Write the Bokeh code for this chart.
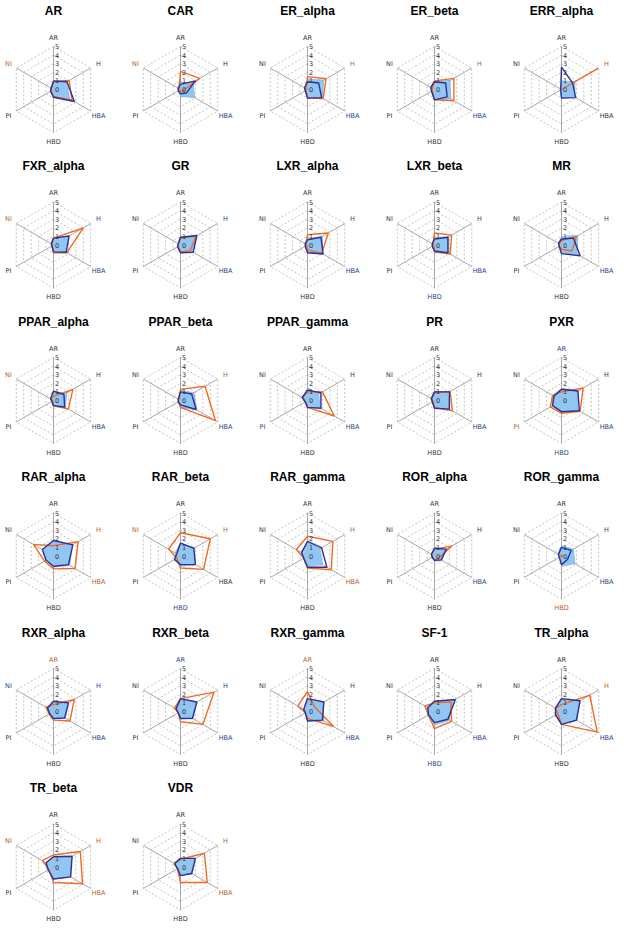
import numpy as np
from bokeh.plotting import figure
from bokeh.models import Range1d, ColumnDataSource
from bokeh.embed import file_html
from bokeh.resources import INLINE
from bokeh.core.properties import value

axes_names = ["AR", "H", "HBA", "HBD", "PI", "NI"]
ticks = [0, 1, 2, 3, 4, 5]

titles = ["AR", "CAR", "ER_alpha", "ER_beta", "ERR_alpha",
          "FXR_alpha", "GR", "LXR_alpha", "LXR_beta", "MR",
          "PPAR_alpha", "PPAR_beta", "PPAR_gamma", "PR", "PXR",
          "RAR_alpha", "RAR_beta", "RAR_gamma", "ROR_alpha", "ROR_gamma",
          "RXR_alpha", "RXR_beta", "RXR_gamma", "SF-1", "TR_alpha",
          "TR_beta", "VDR"]

# values in axis order AR, H, HBA, HBD, PI, NI
fill_vals = [
    [0.9, 1.7, 2.2, 0.9, 0.4, 0.4],
    [0.8, 1.7, 1.9, 0.8, 0.3, 0.3],
    [1.2, 2.2, 2.0, 1.0, 0.3, 0.4],
    [1.0, 2.1, 2.2, 1.2, 0.4, 0.5],
    [1.0, 1.8, 1.8, 1.0, 0.2, 0.2],
    [0.8, 2.0, 1.6, 0.8, 0.3, 0.3],
    [0.9, 2.0, 1.7, 0.9, 0.4, 0.3],
    [0.8, 2.0, 2.0, 0.9, 0.3, 0.3],
    [0.9, 1.9, 1.9, 0.9, 0.3, 0.3],
    [1.0, 2.2, 2.1, 1.0, 0.4, 0.4],
    [0.9, 1.8, 1.6, 0.7, 0.3, 0.3],
    [1.2, 1.8, 2.2, 0.8, 0.3, 0.3],
    [1.5, 1.5, 1.7, 0.8, 0.4, 0.6],
    [1.1, 1.8, 2.0, 0.9, 0.3, 0.4],
    [1.4, 2.3, 2.2, 1.4, 1.2, 1.2],
    [1.8, 2.5, 2.2, 1.3, 1.0, 1.5],
    [1.5, 1.8, 2.0, 1.2, 0.7, 0.7],
    [1.6, 1.7, 2.0, 1.2, 0.5, 0.8],
    [1.0, 1.5, 1.0, 0.6, 0.3, 0.4],
    [1.2, 1.6, 1.8, 1.2, 0.3, 0.5],
    [1.2, 2.0, 1.6, 0.9, 0.5, 0.8],
    [1.5, 2.1, 1.7, 0.9, 0.3, 0.6],
    [1.3, 2.0, 2.2, 1.1, 0.3, 0.5],
    [1.2, 2.5, 2.0, 1.6, 0.9, 1.0],
    [1.5, 2.4, 2.1, 1.5, 0.8, 0.8],
    [1.2, 2.4, 2.3, 1.4, 0.7, 1.0],
    [1.0, 2.0, 1.6, 1.0, 0.4, 0.8],
]

navy_vals = [
    [1.0, 1.8, 2.8, 0.9, 0.4, 0.3],
    [0.6, 2.0, 0.8, 0.5, 0.3, 0.3],
    [0.9, 1.5, 1.9, 1.0, 0.3, 0.4],
    [0.9, 1.5, 1.7, 1.2, 0.4, 0.5],
    [2.6, 1.5, 1.9, 1.0, 0.1, 0.1],
    [0.8, 2.1, 1.7, 0.8, 0.2, 0.3],
    [0.9, 2.2, 1.7, 0.9, 0.4, 0.3],
    [0.6, 1.8, 2.1, 0.9, 0.3, 0.3],
    [0.7, 1.8, 1.8, 0.7, 0.3, 0.3],
    [0.7, 1.6, 2.5, 1.0, 0.3, 0.4],
    [1.1, 1.4, 1.5, 0.6, 0.2, 0.4],
    [1.0, 1.5, 2.1, 0.5, 0.3, 0.3],
    [1.2, 1.8, 1.8, 0.8, 0.3, 0.7],
    [1.0, 2.0, 2.0, 0.9, 0.3, 0.4],
    [1.3, 2.2, 2.4, 1.3, 1.2, 1.0],
    [1.8, 2.6, 2.0, 1.2, 1.0, 1.5],
    [1.5, 1.8, 2.0, 1.0, 0.8, 0.5],
    [1.7, 1.9, 2.6, 1.3, 0.5, 0.8],
    [0.9, 1.6, 0.9, 0.5, 0.3, 0.4],
    [1.0, 1.3, 0.8, 1.0, 0.3, 0.4],
    [1.2, 2.0, 1.5, 0.8, 0.5, 0.8],
    [1.5, 2.2, 1.6, 0.8, 0.3, 0.6],
    [1.5, 2.2, 2.0, 1.1, 0.3, 0.5],
    [1.2, 2.8, 1.8, 1.3, 0.8, 0.9],
    [1.5, 2.5, 2.0, 1.5, 0.8, 0.8],
    [1.2, 2.5, 2.3, 1.4, 0.7, 1.0],
    [1.0, 2.0, 1.5, 1.0, 0.4, 0.8],
]

orange_vals = [
    [0.9, 2.1, 2.5, 0.8, 0.3, 0.3],
    [2.1, 2.6, 0.3, 0.2, 0.1, 0.2],
    [1.5, 2.5, 2.1, 1.0, 0.2, 0.2],
    [1.0, 2.6, 2.6, 1.2, 0.3, 0.3],
    [0.0, 4.9, 0.0, 0.0, 0.0, 0.0],
    [0.8, 4.0, 1.8, 0.9, 0.2, 0.2],
    [0.8, 2.1, 1.3, 0.8, 0.3, 0.3],
    [1.2, 2.8, 1.9, 0.6, 0.1, 0.2],
    [1.4, 2.3, 2.1, 0.8, 0.1, 0.2],
    [0.5, 2.0, 1.4, 0.5, 0.3, 0.3],
    [0.5, 2.6, 2.0, 0.6, 0.1, 0.3],
    [1.3, 3.3, 4.7, 0.8, 0.3, 0.2],
    [1.0, 2.0, 3.6, 0.8, 0.3, 0.7],
    [0.9, 2.1, 2.4, 0.8, 0.2, 0.5],
    [1.0, 2.9, 2.5, 1.5, 1.5, 1.2],
    [1.2, 3.3, 2.9, 1.5, 1.2, 2.7],
    [2.7, 4.0, 3.1, 1.4, 0.5, 1.6],
    [2.3, 3.4, 3.2, 1.4, 0.5, 1.5],
    [0.8, 2.3, 0.5, 0.5, 0.3, 0.4],
    [0.1, 0.1, 0.1, 0.1, 0.1, 0.1],
    [0.8, 2.8, 2.2, 1.0, 0.6, 1.0],
    [1.5, 4.5, 3.0, 1.2, 0.3, 0.8],
    [2.3, 1.0, 3.5, 0.8, 0.3, 1.3],
    [1.0, 2.2, 2.3, 2.0, 0.8, 1.3],
    [0.8, 3.8, 4.8, 1.5, 0.5, 0.8],
    [1.4, 3.6, 3.9, 1.8, 0.6, 1.5],
    [0.9, 3.2, 3.6, 1.8, 0.4, 0.8],
]

# label colour codes per panel (axis order AR,H,HBA,HBD,PI,NI): k = dark, o = orange, b = blue
label_codes = ["kbbkko", "kkbkko", "kobkkk", "kobkkk", "kokkkk",
               "kbbkko", "kbbkkk", "kbbkkk", "kbbbkk", "kbbkkk",
               "kkbkko", "kobkkk", "kkbkbk", "kkbkkk", "bkbbok",
               "kookkk", "kokbko", "kookkk", "kkbkkk", "kbbokk",
               "obbkkb", "bbbkkk", "obbkkk", "kkbbkk", "kobkkk",
               "kookko", "kookkk"]
code_colors = {"k": "#333333", "o": "#b8611f", "b": "#1f3f8a"}

NCOL = 5
COL_STEP = 127.0
ROW_STEP = 155.5
X0, Y0 = 53.0, 89.0
R = 43.0          # pixel radius of value 5
LAB_R = 52.0

W, H = 622, 940
p = figure(width=W, height=H, x_range=Range1d(0, W), y_range=Range1d(H, 0),
           output_backend="svg", toolbar_location=None, min_border=0)
p.axis.visible = False
p.grid.visible = False
p.outline_line_color = None

ang = np.deg2rad(90 - 60 * np.arange(6))
ux, uy = np.cos(ang), -np.sin(ang)
uxc, uyc = np.append(ux, ux[0]), np.append(uy, uy[0])

ring_xs, ring_ys, spoke_xs, spoke_ys = [], [], [], []
fill_xs, fill_ys, navy_xs, navy_ys, or_xs, or_ys = [], [], [], [], [], []
tx, ty, tt = [], [], []
lx, ly, lt, lc = [], [], [], []
tix, tiy, tit = [], [], []

for k, name in enumerate(titles):
    r, c = divmod(k, NCOL)
    cx = X0 + c * COL_STEP
    cy = Y0 + r * ROW_STEP
    s = R / 5.0
    for v in ticks[1:]:
        ring_xs.append(list(cx + v * s * uxc))
        ring_ys.append(list(cy + v * s * uyc))
    for i in range(6):
        spoke_xs.append([cx, cx + R * ux[i]])
        spoke_ys.append([cy, cy + R * uy[i]])
    fv = np.array(fill_vals[k]) * s
    fill_xs.append(list(cx + fv * ux)); fill_ys.append(list(cy + fv * uy))
    nv = np.append(navy_vals[k], navy_vals[k][0]) * s
    navy_xs.append(list(cx + nv * uxc)); navy_ys.append(list(cy + nv * uyc))
    ov = np.append(orange_vals[k], orange_vals[k][0]) * s
    or_xs.append(list(cx + ov * uxc)); or_ys.append(list(cy + ov * uyc))
    for v in ticks:
        tx.append(cx + 1.5); ty.append(cy - v * s); tt.append(str(v))
    for i, a in enumerate(axes_names):
        lx.append(cx + LAB_R * ux[i]); ly.append(cy + LAB_R * uy[i]); lt.append(a)
        lc.append(code_colors[label_codes[k][i]])
    tix.append(cx); tiy.append(cy - 79); tit.append(name)

p.multi_line(ring_xs, ring_ys, line_color="#b4b4b4", line_width=0.8, line_dash="2 2")
p.multi_line(spoke_xs, spoke_ys, line_color="#a8a8a8", line_width=1)
p.patches(fill_xs, fill_ys, fill_color="#8cc4f2", fill_alpha=0.95, line_color="#6fa8dc", line_width=0.6)
p.multi_line(or_xs, or_ys, line_color="#f26a21", line_width=1.4)
p.multi_line(navy_xs, navy_ys, line_color="#2e3192", line_width=1.4)

p.text(x=tx, y=ty, text=tt, text_font=value("DejaVu Sans"), text_font_size="6.5px",
       text_color="#333333", text_align="left", text_baseline="middle")
p.text(source=ColumnDataSource(dict(x=lx, y=ly, t=lt, c=lc)), x="x", y="y", text="t",
       text_color="c", text_font=value("DejaVu Sans"), text_font_size="6.5px",
       text_align="center", text_baseline="middle")
p.text(x=tix, y=tiy, text=tit, text_font=value("Liberation Sans"), text_font_size="12px",
       text_font_style="bold", text_color="#000000", text_align="center", text_baseline="middle")

open("out.html", "w").write(file_html(p, INLINE))
